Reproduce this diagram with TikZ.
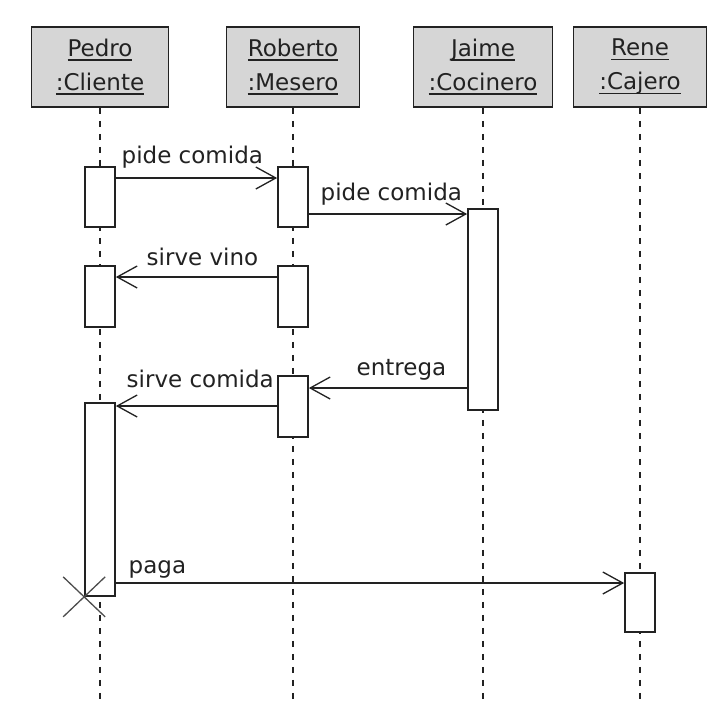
\documentclass[tikz,border=0pt]{standalone}
\usepackage{fontspec}
\setmainfont{DejaVu Sans}
\usetikzlibrary{arrows.meta}
\definecolor{hdrfill}{HTML}{D6D6D6}
\definecolor{ink}{HTML}{222222}
\newcommand\uln[1]{\setbox0\hbox{#1}\rlap{\usebox0}\rule[-4.5pt]{\wd0}{1.8pt}}
\tikzset{
  x=1pt, y=-1pt,
  hdr/.style={draw=ink, line width=1.8pt, fill=hdrfill, minimum height=80pt, inner sep=0pt,
    align=center, text=ink, font=\fontsize{23}{34}\selectfont},
  act/.style={draw=ink, line width=1.7pt, fill=white, minimum width=30pt, inner sep=0pt},
  life/.style={draw=ink, line width=1.7pt, dash pattern=on 6pt off 7pt},
  msg/.style={draw=ink, line width=1.7pt, -{Straight Barb[length=20pt,width=22pt,line width=1.3pt]}},
  lbl/.style={text=ink, font=\fontsize{23}{28}\selectfont, inner sep=0pt},
  xmark/.style={draw=ink!80, line width=1.3pt}
}
\begin{document}
\begin{tikzpicture}
\useasboundingbox[fill=white] (0,0) rectangle (707,702);
% headers
\node[hdr, minimum width=137pt] (hP) at (100,67) {\uln{Pedro}\\\uln{:Cliente}};
\node[hdr, minimum width=133pt] (hR) at (293,67) {\uln{Roberto}\\\uln{:Mesero}};
\node[hdr, minimum width=139pt] (hJ) at (483,67) {\uln{Jaime}\\\uln{:Cocinero}};
\node[hdr, minimum width=133pt] (hE) at (640,67) {\uln{Rene}\\\uln{:Cajero}};
% lifelines
\draw[life] (hP.south) -- (hP.south |- 0,702);
\draw[life] (hR.south) -- (hR.south |- 0,702);
\draw[life] (hJ.south) -- (hJ.south |- 0,702);
\draw[life] (hE.south) -- (hE.south |- 0,702);
% activations
\node[act, minimum height=60pt] (pA1) at (100,197) {};
\node[act, minimum height=60pt] (rA1) at (293,197) {};
\node[act, minimum height=201pt] (jA) at (483,309.5) {};
\node[act, minimum height=61pt] (pA2) at (100,296.5) {};
\node[act, minimum height=61pt] (rA2) at (293,296.5) {};
\node[act, minimum height=61pt] (rA3) at (293,406.5) {};
\node[act, minimum height=193pt] (pA3) at (100,499.5) {};
\node[act, minimum height=59pt] (eA) at (640,602.5) {};
% messages
\draw[msg] (pA1.east |- 0,178) -- node[lbl, at start, anchor=base west, xshift=5pt, yshift=15pt] {pide comida} (rA1.west |- 0,178);
\draw[msg] (rA1.east |- 0,214) -- node[lbl, at start, anchor=base west, xshift=11pt, yshift=14pt] {pide comida} (jA.west |- 0,214);
\draw[msg] (rA2.west |- 0,277) -- node[lbl, at end, anchor=base west, xshift=30pt, yshift=12pt] {sirve vino} (pA2.east |- 0,277);
\draw[msg] (jA.west |- 0,388) -- node[lbl, at end, anchor=base west, xshift=47pt, yshift=13pt] {entrega} (rA3.east |- 0,388);
\draw[msg] (rA3.west |- 0,406) -- node[lbl, at end, anchor=base west, xshift=10pt, yshift=19pt] {sirve comida} (pA3.east |- 0,406);
\draw[msg] (pA3.east |- 0,583) -- node[lbl, at start, anchor=base west, xshift=12pt, yshift=10pt] {paga} (eA.west |- 0,583);
% destruction mark
\coordinate (xEnd) at (pA3.south west);
\draw[xmark] ([shift={(-21,-20)}]xEnd) -- ([shift={(21,20)}]xEnd);
\draw[xmark] ([shift={(-21,20)}]xEnd) -- ([shift={(21,-20)}]xEnd);
\end{tikzpicture}
\end{document}
